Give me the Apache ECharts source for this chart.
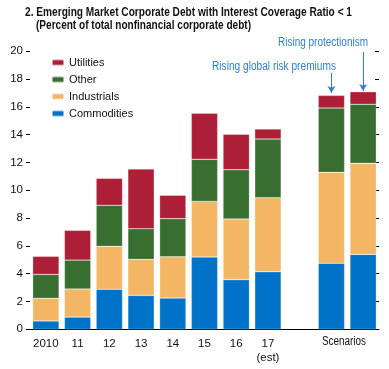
<!DOCTYPE html>
<html><head><meta charset="utf-8">
<script src="https://cdn.jsdelivr.net/npm/echarts@6/dist/echarts.min.js"></script>
<style>html,body{margin:0;padding:0;background:#fff}#c{width:389px;height:369px}</style>
</head><body><div id="c"></div>
<script>
const categories = ['2010','11','12','13','14','15','16','17\n(est)','','S1','S2'];
const commodities = [0.60,0.88,2.88,2.44,2.25,5.20,3.57,4.14,null,4.75,5.39];
const industrials = [1.63,2.02,3.09,2.59,2.97,4.00,4.37,5.33,null,6.54,6.55];
const other       = [1.72,2.08,2.95,2.21,2.74,3.03,3.54,4.22,null,4.63,4.25];
const utilities   = [1.30,2.14,1.94,4.29,1.68,3.31,2.55,0.72,null,0.91,0.90];
const FONT = '"Liberation Sans",Arial,sans-serif';
const blue = '#2f7fd0';
const mctx = document.createElement('canvas').getContext('2d');
function fitText(text, font, targetW, x, y, fill){
  mctx.font = font;
  const w = mctx.measureText(text).width;
  return {type:'text', x:x, y:y, scaleX: targetW / w, originX:0,
    style:{text:text, font:font, fill:fill, textVerticalAlign:'middle'}};
}
const chart = echarts.init(document.getElementById('c'));
function ser(name, data, color, extra){
  return Object.assign({name, type:'bar', stack:'t', data, barCategoryGap:'17%',
    itemStyle:{color, borderColor:'rgba(255,255,255,0.5)', borderWidth:0.5}}, extra||{});
}
chart.setOption({
  animation:false,
  textStyle:{fontFamily:FONT},
  legend:{left:46,top:52,orient:'vertical',itemWidth:12,itemHeight:6,itemGap:6,
    data:['Utilities','Other','Industrials','Commodities'],
    textStyle:{fontFamily:FONT,fontSize:11,color:'#111'}},
  grid:{left:30,right:10,top:51.3,bottom:39.7},
  xAxis:{type:'category',data:categories,
    axisLine:{lineStyle:{color:'#000',width:1}},
    axisTick:{length:4,lineStyle:{color:'#000'},interval:function(i){return i>=1&&i<=8;}},
    axisLabel:{interval:0,fontFamily:FONT,fontSize:11.5,color:'#111',margin:8,lineHeight:14,
      formatter:function(v){return (v==='S1'||v==='S2')?'':v;}}},
  yAxis:[{type:'value',min:0,max:20,interval:2,
    axisLine:{show:false},axisTick:{show:true,length:4,lineStyle:{color:'#000'}},
    splitLine:{show:false},
    axisLabel:{fontFamily:FONT,fontSize:11.5,color:'#111',margin:7}},
   {type:'value',min:0,max:20,interval:2,position:'right',
    axisLine:{show:false},axisTick:{show:true,inside:true,length:4,lineStyle:{color:'#000'}},
    splitLine:{show:false},axisLabel:{show:false}}],
  series:[
    ser('Commodities',commodities,'#0073c9'),
    ser('Industrials',industrials,'#f2b664'),
    ser('Other',other,'#386f31'),
    ser('Utilities',utilities,'#ad1f36',{
      markLine:{silent:true,symbol:['none','arrow'],symbolSize:[6,7],
        lineStyle:{color:blue,width:1,type:'solid'},label:{show:false},
        data:[[{coord:['S1',18.45]},{coord:['S1',17.0]}],
              [{coord:['S2',19.95]},{coord:['S2',17.15]}]]}})
  ],
  graphic:[
    fitText('2. Emerging Market Corporate Debt with Interest Coverage Ratio < 1','bold 13px '+FONT,327,25,12,'#111'),
    fitText('(Percent of total nonfinancial corporate debt)','bold 13px '+FONT,215,36,25,'#111'),
    fitText('Rising global risk premiums','12px '+FONT,124,212,67,blue),
    fitText('Rising protectionism','12px '+FONT,90,278,43,blue),
    fitText('Scenarios','12px '+FONT,44,322,342,'#111')
  ]
});
</script></body></html>
